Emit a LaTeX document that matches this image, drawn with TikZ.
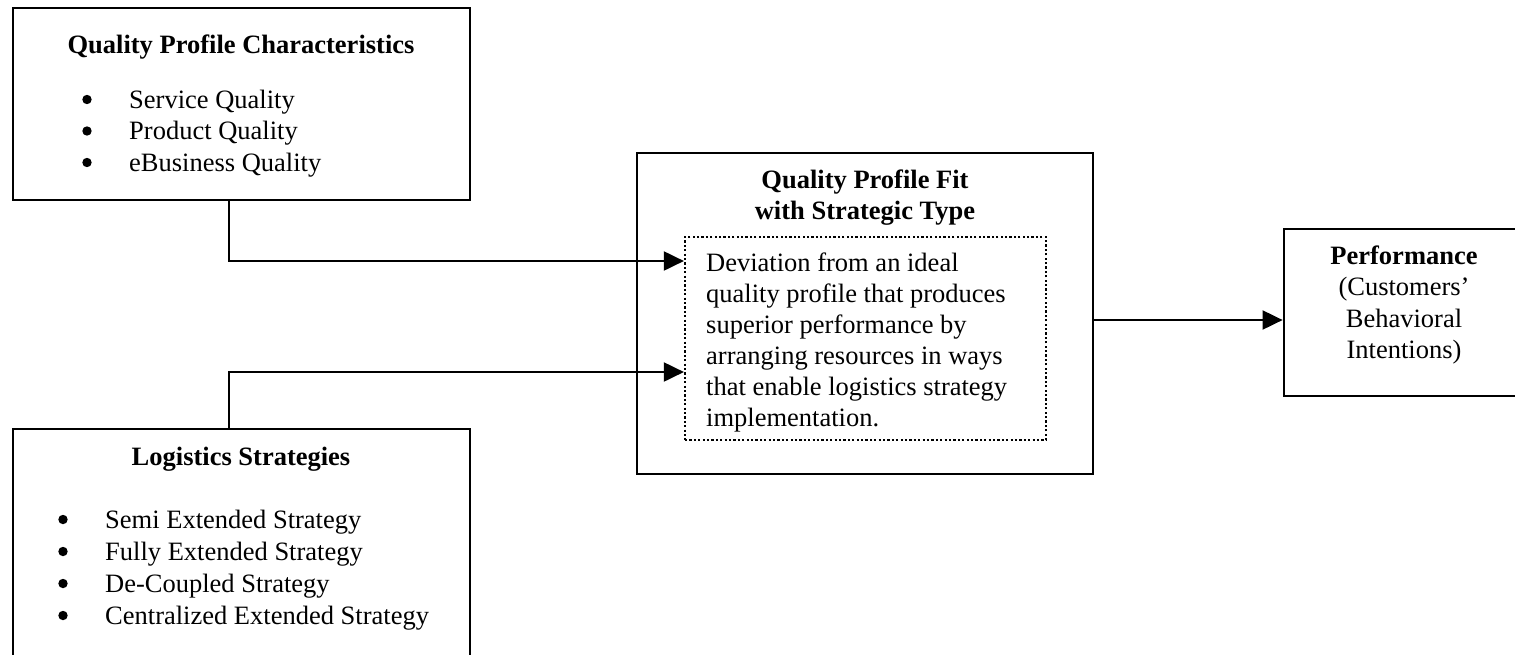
\documentclass[tikz,border=0pt]{standalone}
\usepackage{fontspec}
\setmainfont{Liberation Serif}
\usetikzlibrary{arrows.meta}
\begin{document}
\begin{tikzpicture}[x=1pt,y=1pt,
  box/.style={draw,line width=2.8pt,inner sep=0,rectangle},
  dotbox/.style={draw,line width=2.2pt,dash pattern=on 2.2pt off 2.2pt,inner sep=0,rectangle},
  txt/.style={inner sep=0,font=\fontsize{26.5}{31.5}\selectfont},
  btxt/.style={inner sep=0,font=\fontsize{26.5}{31.5}\selectfont\bfseries},
  bul/.style={fill=black},
  conn/.style={line width=2pt,-{Triangle[length=20pt,width=19pt]}}]
\useasboundingbox (0,0) rectangle (1515,-654);
\clip (0,0) rectangle (1515,-654);
% boxes
\node[box,minimum width=457pt,minimum height=192pt] (qpc) at (241.5,-104) {};
\node[box,minimum width=457pt,minimum height=260pt] (ls) at (241.5,-559) {};
\node[box,minimum width=456pt,minimum height=321pt] (fit) at (865,-313.5) {};
\node[dotbox,minimum width=361pt,minimum height=203pt] (dev) at (865.5,-338.5) {};
\node[box,minimum width=241pt,minimum height=167pt] (perf) at (1404.5,-312.5) {};
% texts box 1
\node[btxt,anchor=base] (t1) at (241,-53) {Quality Profile Characteristics};
\node[txt,anchor=base west] (b11) at (129,-108) {Service Quality};
\node[txt,anchor=base west] (b12) at (129,-139.5) {Product Quality};
\node[txt,anchor=base west] (b13) at (129,-171) {eBusiness Quality};
% texts box 2
\node[btxt,anchor=base] (t2) at (241,-465) {Logistics Strategies};
\node[txt,anchor=base west] (b21) at (105,-528) {Semi Extended Strategy};
\node[txt,anchor=base west] (b22) at (105,-560) {Fully Extended Strategy};
\node[txt,anchor=base west] (b23) at (105,-592) {De-Coupled Strategy};
\node[txt,anchor=base west] (b24) at (105,-624) {Centralized Extended Strategy};
% bullets
\foreach \b in {b11,b12,b13,b21,b22,b23,b24}
  \fill[bul] ([xshift=-42pt,yshift=8.5pt]\b.base west) circle (4.7pt);
% texts box 3
\node[btxt,anchor=base] (t3a) at (865,-188) {Quality Profile Fit};
\node[btxt,anchor=base] (t3b) at (865,-219) {with Strategic Type};
\node[txt,anchor=base west] (d1) at (706,-271) {Deviation from an ideal};
\node[txt,anchor=base west] (d2) at (706,-302) {quality profile that produces};
\node[txt,anchor=base west] (d3) at (706,-333) {superior performance by};
\node[txt,anchor=base west] (d4) at (706,-364) {arranging resources in ways};
\node[txt,anchor=base west] (d5) at (706,-395) {that enable logistics strategy};
\node[txt,anchor=base west] (d6) at (706,-426) {implementation.};
% texts box 4
\node[btxt,anchor=base] (p1) at (1404,-264) {Performance};
\node[txt,anchor=base] (p2) at (1404,-295.5) {(Customers’};
\node[txt,anchor=base] (p3) at (1404,-327) {Behavioral};
\node[txt,anchor=base] (p4) at (1404,-358) {Intentions)};
% connectors
\draw[conn] ([xshift=-12.5pt]qpc.south) |- ([yshift=77.5pt]dev.west);
\draw[conn] ([xshift=-12.5pt]ls.north) |- ([yshift=-33.5pt]dev.west);
\draw[conn] ([yshift=-6.5pt]fit.east) -- ([yshift=-6.5pt]fit.east -| perf.west);
\end{tikzpicture}
\end{document}
